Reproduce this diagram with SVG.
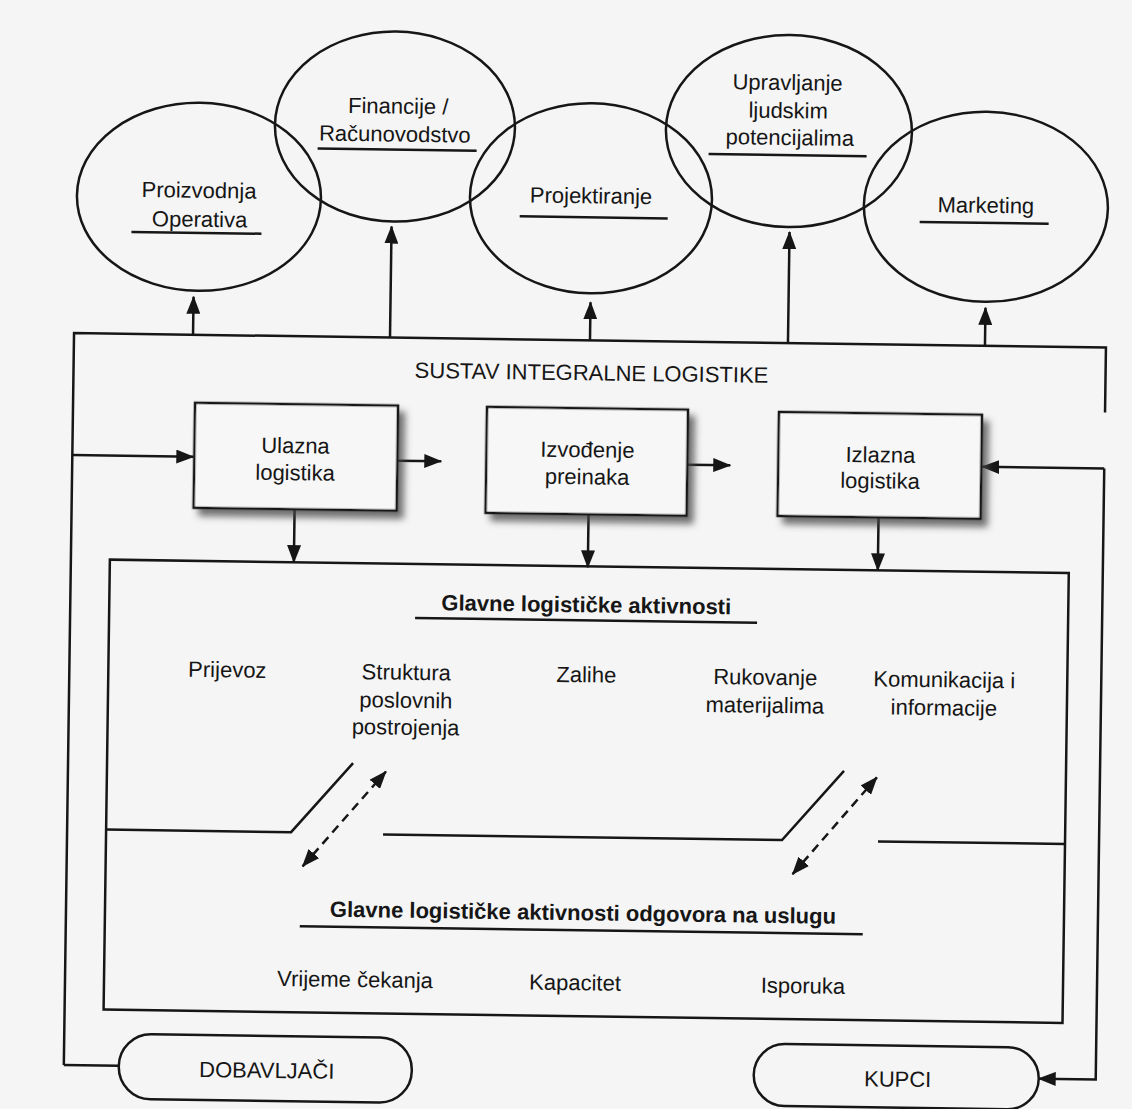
<svg xmlns="http://www.w3.org/2000/svg" width="1132" height="1109" viewBox="0 0 1132 1109">
<style>
text{font-family:"Liberation Sans",Arial,sans-serif;font-size:22px;fill:#161616;text-anchor:middle}
.b{font-weight:bold}
.ln{fill:none;stroke:#161616;stroke-width:2.5}
.ul{fill:none;stroke:#161616;stroke-width:2.5}
.el{fill:none;stroke:#161616;stroke-width:2.5}
.bx{fill:#f7f7f7;stroke:#161616;stroke-width:2.5}
.ar{fill:none;stroke:#161616;stroke-width:2.5;marker-end:url(#ah)}
.da{fill:none;stroke:#161616;stroke-width:2.5;stroke-dasharray:9 6;marker-start:url(#ah);marker-end:url(#ah)}
</style>
<defs>
<marker id="ah" viewBox="0 0 18 14" refX="17" refY="7" markerWidth="18" markerHeight="14" markerUnits="userSpaceOnUse" orient="auto-start-reverse"><path d="M0,0 L18,7 L0,14 z" fill="#161616"/></marker>
<filter id="sh" x="-10%" y="-10%" width="130%" height="140%"><feDropShadow dx="6" dy="7" stdDeviation="3.5" flood-color="#444" flood-opacity="0.75"/></filter>
</defs>
<rect width="1132" height="1109" fill="#f5f5f5"/>
<g transform="rotate(0.8 566 554)">
<g id="connectors">
<path class="ln" d="M71,1072 V340 H1103 V405"/>
<path class="ln" d="M71,1072 H126"/>
<path class="ar" d="M190,340 V302"/>
<path class="ar" d="M387,340 V229"/>
<path class="ar" d="M587,340 V302"/>
<path class="ar" d="M785,340 V229"/>
<path class="ar" d="M982,340 V302"/>
<path class="ar" d="M71,462 H192"/>
<path class="ar" d="M396,463 H440"/>
<path class="ar" d="M686,463 H729"/>
<path class="ar" d="M294,513 V566"/>
<path class="ar" d="M588,514 V567"/>
<path class="ar" d="M878,513 V566"/>
<path class="ar" d="M1103,461 H981"/>
<path class="ar" d="M1103,461 V1072 H1046"/>
<path class="da" d="M307,870 L389,774"/>
<path class="da" d="M797,871 L880,773"/>
</g>
<g id="sustav">
<text x="589" y="380">SUSTAV INTEGRALNE LOGISTIKE</text>
</g>
<g id="proizvodnja">
<ellipse class="el" cx="194" cy="202" rx="122" ry="94"/>
<text x="194" y="203">Proizvodnja</text>
<text x="195" y="232">Operativa</text>
<path class="ul" d="M127,238 H257"/>
</g>
<g id="financije">
<ellipse class="el" cx="389" cy="129" rx="120" ry="95"/>
<text x="392" y="116">Financije /</text>
<text x="389" y="144">Računovodstvo</text>
<path class="ul" d="M312,152 H471"/>
</g>
<g id="projektiranje">
<ellipse class="el" cx="586" cy="198" rx="121" ry="95"/>
<text x="586" y="203">Projektiranje</text>
<path class="ul" d="M515,217 H663"/>
</g>
<g id="upravljanje">
<ellipse class="el" cx="783" cy="128" rx="123" ry="96"/>
<text x="781" y="87">Upravljanje</text>
<text x="782" y="115">ljudskim</text>
<text x="784" y="142">potencijalima</text>
<path class="ul" d="M703,152 H861"/>
</g>
<g id="marketing">
<ellipse class="el" cx="981" cy="201" rx="122" ry="95"/>
<text x="981" y="207">Marketing</text>
<path class="ul" d="M915,217 H1044"/>
</g>
<g id="ulazna">
<rect class="bx" x="193" y="408" width="203" height="105" filter="url(#sh)"/>
<text x="294" y="457">Ulazna</text>
<text x="294" y="484">logistika</text>
</g>
<g id="izvodenje">
<rect class="bx" x="485" y="408" width="201" height="106" filter="url(#sh)"/>
<text x="586" y="457">Izvođenje</text>
<text x="586" y="484">preinaka</text>
</g>
<g id="izlazna">
<rect class="bx" x="777" y="409" width="203" height="104" filter="url(#sh)"/>
<text x="879" y="458">Izlazna</text>
<text x="879" y="484">logistika</text>
</g>
<g id="glavne">
<rect class="ln" x="110" y="566" width="959" height="450"/>
<path class="ln" d="M110,836 H295 L356,766 M387,837 H786 L847,767 M882,837 H1069"/>
<text class="b" x="587" y="612">Glavne logističke aktivnosti</text>
<path class="ul" d="M416,620 H758"/>
<text x="229" y="682">Prijevoz</text>
<text x="408" y="682">Struktura</text>
<text x="408" y="710">poslovnih</text>
<text x="408" y="737">postrojenja</text>
<text x="588" y="682">Zalihe</text>
<text x="767" y="682">Rukovanje</text>
<text x="767" y="710">materijalima</text>
<text x="946" y="682">Komunikacija i</text>
<text x="946" y="710">informacije</text>
<text class="b" x="588" y="920">Glavne logističke aktivnosti odgovora na uslugu</text>
<path class="ul" d="M305,930 H868"/>
<text x="361" y="990">Vrijeme čekanja</text>
<text x="581" y="990">Kapacitet</text>
<text x="809" y="990">Isporuka</text>
</g>
<g id="dobavljaci">
<rect class="ln" x="126" y="1040" width="293" height="65" rx="32" ry="32"/>
<text x="274" y="1082">DOBAVLJAČI</text>
</g>
<g id="kupci">
<rect class="ln" x="761" y="1041" width="285" height="62" rx="31" ry="31"/>
<text x="905" y="1082">KUPCI</text>
</g>
</g>
</svg>
